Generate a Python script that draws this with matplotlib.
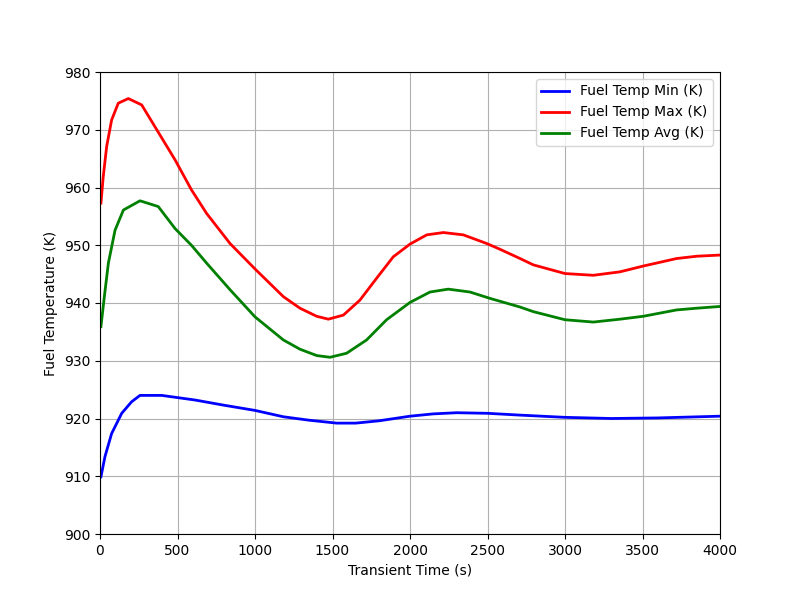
import numpy as np
import matplotlib
matplotlib.use('Agg')
import matplotlib.pyplot as plt

# values
t_max = [6, 21, 43, 75, 118, 183, 269, 355, 484, 590, 688, 839, 1000, 1183, 1290, 1398, 1473, 1570,
         1677, 1785, 1892, 2000, 2108, 2215, 2344, 2495, 2581, 2710, 2796, 3000, 3183, 3355, 3505,
         3720, 3850, 4000]
temp_max = [957.3, 961.9, 967.1, 971.7, 974.6, 975.4, 974.3, 970.5, 964.8, 959.6, 955.5, 950.3, 945.9, 941.1, 939.1, 937.7, 937.2, 937.9,
            940.5, 944.3, 948.0, 950.2, 951.8, 952.2, 951.8, 950.3, 949.3, 947.7, 946.6, 945.1, 944.8, 945.4, 946.4,
            947.7, 948.1, 948.3]

t_avg = [6, 28, 54, 97, 151, 258, 376, 484, 590, 688, 839, 1000, 1183, 1290, 1398, 1484, 1591,
         1720, 1849, 2000, 2129, 2247, 2387, 2516, 2710, 2796, 3000, 3183, 3355, 3505, 3720, 3850, 4000]
temp_avg = [935.9, 941.1, 946.9, 952.6, 956.1, 957.7, 956.7, 952.9, 950.0, 946.9, 942.3, 937.6, 933.6, 932.0, 930.9, 930.6, 931.3,
            933.6, 937.1, 940.1, 941.9, 942.4, 941.9, 940.8, 939.3, 938.5, 937.1, 936.7, 937.2, 937.7, 938.8, 939.1, 939.4]

t_min = [6, 32, 75, 140, 204, 258, 398, 613, 800, 1000, 1183, 1350, 1527, 1650,
         1800, 2000, 2150, 2300, 2500, 2700, 3000, 3300, 3600, 4000]
temp_min = [909.9, 913.4, 917.4, 920.9, 922.9, 924.0, 924.0, 923.2, 922.3, 921.4, 920.3, 919.7, 919.2, 919.2,
            919.6, 920.4, 920.8, 921.0, 920.9, 920.6, 920.2, 920.0, 920.1, 920.4]

plt.figure(figsize=(8, 6), dpi=100)
plt.plot(t_min, temp_min, color='blue', lw=2, label='Fuel Temp Min (K)')
plt.plot(t_max, temp_max, color='red', lw=2, label='Fuel Temp Max (K)')
plt.plot(t_avg, temp_avg, color='green', lw=2, label='Fuel Temp Avg (K)')
plt.xlim(0, 4000)
plt.ylim(900, 980)
plt.xlabel('Transient Time (s)')
plt.ylabel('Fuel Temperature (K)')
plt.grid(True)
plt.legend(loc='upper right')
plt.savefig('out.png')
